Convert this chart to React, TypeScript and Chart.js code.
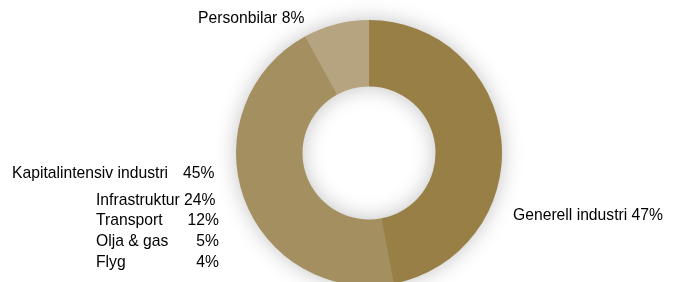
import React, { useEffect, useRef } from "react";
import { Chart, registerables } from "chart.js";

Chart.register(...registerables);

const categories = ["Generell industri", "Kapitalintensiv industri", "Personbilar"];
const shares = [47, 45, 8];
const sliceColors = ["#987f45", "#a48f60", "#b5a47f"];

const subCategories = ["Infrastruktur", "Transport", "Olja & gas", "Flyg"];
const subShares = [24, 12, 5, 4];

const FONT = "15.7px 'Liberation Sans', Arial, sans-serif";

const shadowPlugin = {
  id: "ringShadow",
  beforeDatasetsDraw(chart: any) {
    const arc = chart.getDatasetMeta(0).data[0];
    if (!arc) return;
    const { x, y, outerRadius, innerRadius } = arc.getProps(["x", "y", "outerRadius", "innerRadius"], true);
    const ctx = chart.ctx;
    ctx.save();
    ctx.shadowColor = "rgba(0,0,0,0.26)";
    ctx.shadowBlur = 22;
    ctx.shadowOffsetX = 0;
    ctx.shadowOffsetY = 0;
    ctx.fillStyle = sliceColors[0];
    ctx.beginPath();
    ctx.arc(x, y, outerRadius - 1, 0, Math.PI * 2);
    ctx.arc(x, y, innerRadius + 1, 0, Math.PI * 2, true);
    ctx.closePath();
    ctx.fill();
    ctx.restore();
  },
};

const labelPlugin = {
  id: "sliceLabels",
  afterDraw(chart: any) {
    const ctx = chart.ctx;
    ctx.save();
    ctx.font = FONT;
    ctx.fillStyle = "#000000";
    ctx.textBaseline = "alphabetic";
    ctx.textAlign = "left";
    ctx.fillText(`${categories[2]} ${shares[2]}%`, 198, 23);
    ctx.fillText(categories[1], 12, 178);
    ctx.fillText(`${shares[1]}%`, 183, 178);
    ctx.fillText(`${categories[0]} ${shares[0]}%`, 513, 220);
    const baselines = [204.5, 225, 246, 266.5];
    subCategories.forEach((name, i) => {
      if (i === 0) {
        ctx.textAlign = "left";
        ctx.fillText(`${name} ${subShares[i]}%`, 96, baselines[i]);
      } else {
        ctx.textAlign = "left";
        ctx.fillText(name, 96, baselines[i]);
        ctx.textAlign = "right";
        ctx.fillText(`${subShares[i]}%`, 219, baselines[i]);
      }
    });
    ctx.restore();
  },
};

export default function App() {
  const ref = useRef<HTMLCanvasElement>(null);
  useEffect(() => {
    if (!ref.current) return;
    const chart = new Chart(ref.current, {
      type: "doughnut",
      data: {
        labels: categories,
        datasets: [
          {
            data: shares,
            backgroundColor: sliceColors,
            borderWidth: 0,
            clip: false as any,
          },
        ],
      },
      options: {
        responsive: false,
        animation: false,
        radius: 133,
        cutout: "50%",
        layout: { padding: { top: 24, bottom: 0, left: 63, right: 0 } },
        plugins: {
          legend: { display: false },
          tooltip: { enabled: false },
        },
      },
      plugins: [shadowPlugin, labelPlugin],
    });
    return () => chart.destroy();
  }, []);
  return (
    <div style={{ position: "fixed", left: 0, top: 0, width: 675, height: 282, background: "#ffffff" }}>
      <canvas ref={ref} width={675} height={282} style={{ width: 675, height: 282 }} />
    </div>
  );
}
